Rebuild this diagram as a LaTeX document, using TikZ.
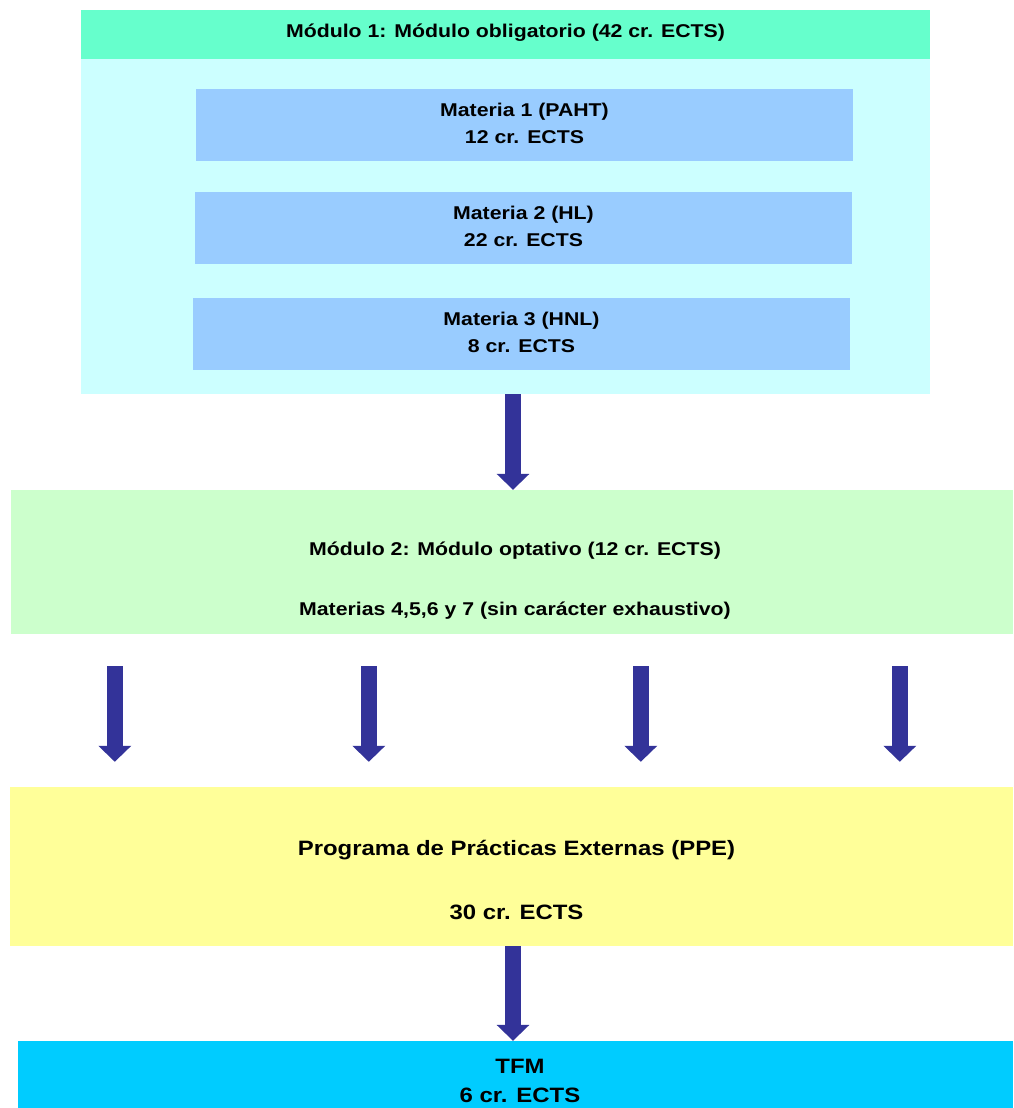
\documentclass[tikz,border=0pt]{standalone}
\usepackage{fontspec}
\setmainfont[FakeStretch=1.15]{Liberation Sans}
\usetikzlibrary{arrows.meta,calc}
\definecolor{headgreen}{HTML}{66FFCC}
\definecolor{lightcyan}{HTML}{CCFFFF}
\definecolor{materiablue}{HTML}{99CCFF}
\definecolor{optgreen}{HTML}{CCFFCC}
\definecolor{ppeyellow}{HTML}{FFFF99}
\definecolor{tfmblue}{HTML}{00CCFF}
\definecolor{arrowblue}{HTML}{333399}

\begin{document}
\begin{tikzpicture}[x=1pt, y=-1pt,
every node/.style={shape=rectangle, inner sep=0pt, align=center, font=\bfseries\fontsize{18.5}{27}\selectfont},
bigtext/.style={font=\bfseries\fontsize{20.8}{29}\selectfont},
materia/.style={fill=materiablue, minimum width=657pt, minimum height=72pt},
blockarrow/.style={draw=arrowblue, line width=16pt, -{Triangle[width=32pt,length=16pt,fill=arrowblue]}}]
\useasboundingbox (0,0) rectangle (1014,1108);

% modulo obligatorio
\node (body)[fill=lightcyan, minimum width=849pt, minimum height=335pt] at (505.5,226.5) {};
\node (head)[fill=headgreen, minimum width=849pt, minimum height=49pt] at (505.5,34.5) {};
\node at ($(head.center)+(0,-1.5)$) {Módulo 1: Módulo obligatorio (42 cr. ECTS)};
\node (m1)[materia] at (524.5,125) {};
\node at ($(m1.center)+(0,-2)$) {Materia 1 (PAHT)\\12 cr. ECTS};
\node (m2)[materia] at (523.5,228) {};
\node at ($(m2.center)+(0,-2)$) {Materia 2 (HL)\\22 cr. ECTS};
\node (m3)[materia] at (521.5,334) {};
\node at ($(m3.center)+(0,-2)$) {Materia 3 (HNL)\\8 cr. ECTS};

% modulo optativo
\node (mod2)[fill=optgreen, minimum width=1002pt, minimum height=144pt] at (512,562) {};
\node at ($(mod2.center)+(3,19)$) {Módulo 2: Módulo optativo (12 cr. ECTS)\\[33pt]Materias 4,5,6 y 7 (sin carácter exhaustivo)};

% practicas externas
\node (ppe)[fill=ppeyellow, minimum width=1003pt, minimum height=159pt] at (511.5,866.5) {};
\node[bigtext] at ($(ppe.center)+(5,13)$) {Programa de Prácticas Externas (PPE)\\[35pt]30 cr. ECTS};

% TFM
\node (tfm)[fill=tfmblue, minimum width=995pt, minimum height=67pt] at (515.5,1074.5) {};
\node[bigtext] at ($(tfm.center)+(4.5,6)$) {TFM\\6 cr. ECTS};

% flechas
\draw[blockarrow] ([xshift=7.5pt]body.south) -- ([xshift=1pt]mod2.north);
\foreach \x [count=\i] in {104,358,630,889} {
  \coordinate (top\i) at ($(mod2.south west)+(\x,32)$);
  \coordinate (tip\i) at ($(top\i |- ppe.north)+(0,-25)$);
  \draw[blockarrow] (top\i) -- (tip\i);
}
\draw[blockarrow] ([xshift=1.5pt]ppe.south) -- ([xshift=-2.5pt]tfm.north);
\end{tikzpicture}
\end{document}
